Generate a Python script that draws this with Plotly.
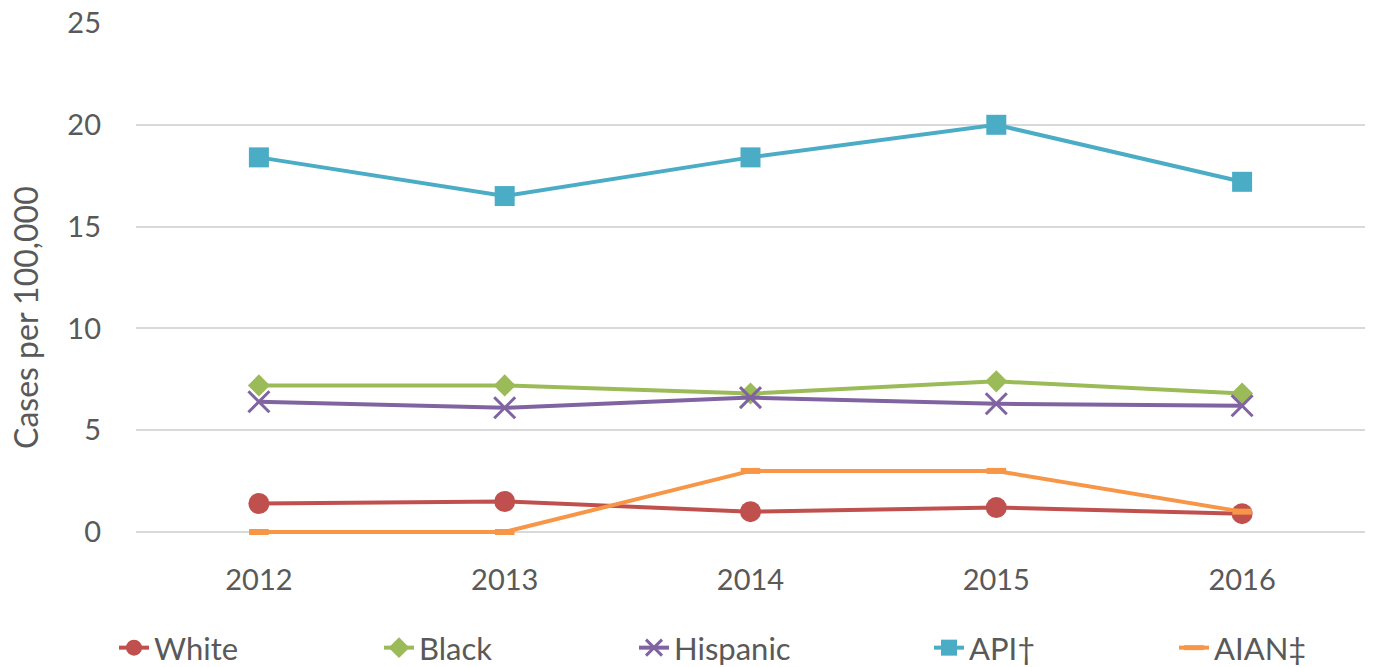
import plotly.graph_objects as go

years = ["2012", "2013", "2014", "2015", "2016"]
white = [1.4, 1.5, 1.0, 1.2, 0.9]
black = [7.2, 7.2, 6.8, 7.4, 6.8]
hispanic = [6.4, 6.1, 6.6, 6.3, 6.2]
api = [18.4, 16.5, 18.4, 20.0, 17.2]
aian = [0.0, 0.0, 3.0, 3.0, 1.0]

names = ["White", "Black", "Hispanic", "API†", "AIAN‡"]
colors = ["#C0504D", "#9BBB59", "#8064A2", "#4BACC6", "#F79646"]
series = [white, black, hispanic, api, aian]
markers = [
    dict(symbol="circle", size=21),
    dict(symbol="diamond", size=17),
    dict(symbol="x-thin", size=21, line=dict(width=3)),
    dict(symbol="square", size=20),
    dict(symbol="line-ew", size=14, line=dict(width=6)),
]

W, H = 1375, 667


def px_x(p):
    return p / W


def px_y(p):
    return (H - p) / H


# pixel positions of value 0 and 25 on the y axis
Y0_PX, Y25_PX = 532, 23
SCALE = (Y0_PX - Y25_PX) / 25.0
R0, R1 = -0.2, 25.03
y_dom_bottom = Y0_PX + (0 - R0) * SCALE
y_dom_top = Y25_PX - (R1 - 25) * SCALE

# legend text start pixels (reference)
legend_text_x = [155, 420, 675, 970, 1215]

font = "Lato, 'Open Sans', sans-serif"
grey = "#595959"

fig = go.Figure()
legend_layout = {}
for i, (n, c, s, m) in enumerate(zip(names, colors, series, markers)):
    mk = dict(m)
    mk["color"] = c
    if "line" in mk:
        mk["line"] = dict(mk["line"], color=c)
    lname = "legend" if i == 0 else f"legend{i + 1}"
    fig.add_trace(go.Scatter(x=years, y=s, name=n, mode="lines+markers",
                             line=dict(color=c, width=4), marker=mk,
                             cliponaxis=False, legend=lname))
    legend_layout[lname] = dict(
        x=(legend_text_x[i] - 41) / W, xanchor="left",
        y=px_y(648), yanchor="middle",
        orientation="h", bgcolor="rgba(0,0,0,0)", borderwidth=0,
        font=dict(family=font, size=31, color=grey),
    )

fig.update_layout(
    width=W, height=H,
    margin=dict(l=0, r=0, t=0, b=0, autoexpand=False),
    plot_bgcolor="white", paper_bgcolor="white",
    font=dict(family=font, size=29, color=grey),
    showlegend=True,
    xaxis=dict(type="category", range=[-0.5, 4.5], showgrid=False, ticks="",
               domain=[px_x(136), px_x(1365)],
               showline=False, zeroline=False, ticklabelstandoff=24,
               tickfont=dict(size=29, color=grey)),
    yaxis=dict(range=[R0, R1], dtick=5, tick0=0, showgrid=True, gridcolor="#D9D9D9",
               gridwidth=1.5, domain=[px_y(y_dom_bottom), px_y(y_dom_top)],
               zeroline=False, showline=False, ticks="", ticklabelstandoff=34,
               ticklabeloverflow="allow",
               tickfont=dict(size=29, color=grey)),
    annotations=[dict(text="Cases per 100,000", textangle=-90, showarrow=False,
                      xref="paper", yref="paper", x=px_x(25), y=px_y(318),
                      xanchor="center", yanchor="middle",
                      font=dict(family=font, size=32, color=grey))],
    **legend_layout,
)
fig.write_html("out.html", config={"displayModeBar": False},
               post_script="document.body.style.margin='0';")
